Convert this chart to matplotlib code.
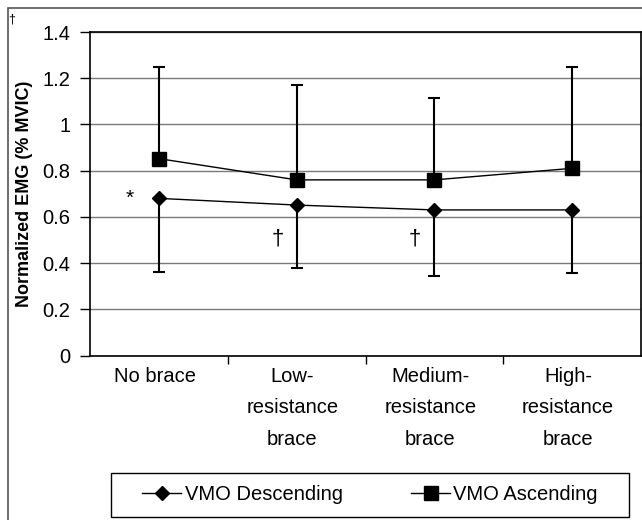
import matplotlib
matplotlib.use("Agg")
import matplotlib.pyplot as plt
from matplotlib.patches import Rectangle
from matplotlib.lines import Line2D

categories = ["No brace", "Low-\nresistance\nbrace", "Medium-\nresistance\nbrace", "High-\nresistance\nbrace"]
desc_values = [0.68, 0.651, 0.63, 0.63]
desc_err_low = [0.32, 0.274, 0.285, 0.274]
asc_values = [0.852, 0.76, 0.76, 0.81]
asc_err_high = [0.396, 0.412, 0.356, 0.438]
yticks = [0, 0.2, 0.4, 0.6, 0.8, 1.0, 1.2, 1.4]
ytick_labels = ["0", "0.2", "0.4", "0.6", "0.8", "1", "1.2", "1.4"]

plt.rcParams['font.family'] = ['Liberation Sans', 'DejaVu Sans']

W, H = 642, 520
fig = plt.figure(figsize=(W / 100, H / 100), dpi=100)

def fx(px):
    return px / W

def fy(py):
    return 1 - py / H

FS = 14.5

# outer border
fig.patches.append(Rectangle((fx(8), fy(540)), fx(700), fy(8) - fy(540), transform=fig.transFigure,
                             fill=False, edgecolor='#555555', lw=1.2))

ax = fig.add_axes([fx(90), fy(355.5), fx(641) - fx(90), fy(32) - fy(355.5)])
x = list(range(len(categories)))

ax.errorbar(x, desc_values, yerr=[desc_err_low, [0] * 4], fmt='none', ecolor='black',
            elinewidth=1.5, capsize=4, capthick=1.5, zorder=3)
ax.errorbar(x, asc_values, yerr=[[0] * 4, asc_err_high], fmt='none', ecolor='black',
            elinewidth=1.5, capsize=4, capthick=1.5, zorder=3)
ax.plot(x, desc_values, color='black', lw=1, marker='D', markersize=7, zorder=4)
ax.plot(x, asc_values, color='black', lw=1, marker='s', markersize=10, zorder=4)

ax.set_xlim(-0.5, 3.5)
ax.set_ylim(0, 1.4)
ax.set_yticks(yticks)
ax.set_yticklabels(ytick_labels, fontsize=FS)
ax.set_xticks([0.5, 1.5, 2.5])
ax.set_xticklabels([])
ax.tick_params(axis='y', length=7, width=1, pad=7)
ax.tick_params(axis='x', length=6, width=1)
ax.grid(axis='y', color='#7a7a7a', lw=1)
ax.set_axisbelow(True)
for s in ax.spines.values():
    s.set_color('black')
    s.set_linewidth(1.2)

for i, c in enumerate(categories):
    ax.text(i - 0.03, -0.05, c, ha='center', va='top', fontsize=FS, linespacing=1.82,
            transform=ax.transData, clip_on=False)

ax.set_ylabel("Normalized EMG (% MVIC)", fontsize=13, fontweight='bold', labelpad=7)

ax.text(-0.21, 0.68, "*", ha='center', va='center', fontsize=15)
ax.text(0.865, 0.503, "†", ha='center', va='center', fontsize=16)
ax.text(1.855, 0.503, "†", ha='center', va='center', fontsize=16)
fig.text(fx(12), fy(20), "†", ha='center', va='center', fontsize=9)

# legend
fig.patches.append(Rectangle((fx(111), fy(517)), fx(629) - fx(111), fy(473) - fy(517),
                             transform=fig.transFigure, fill=False, edgecolor='black', lw=1))
handles = [Line2D([], [], color='black', lw=1, marker='D', markersize=7),
           Line2D([], [], color='black', lw=1, marker='s', markersize=10)]
fig.legend(handles, ["VMO Descending", "VMO Ascending"], loc='center',
           bbox_to_anchor=(fx(370), fy(495)), ncol=2, frameon=False, fontsize=FS,
           handlelength=1.95, handletextpad=0.15, columnspacing=3.4)

fig.savefig("out.png", dpi=100)
